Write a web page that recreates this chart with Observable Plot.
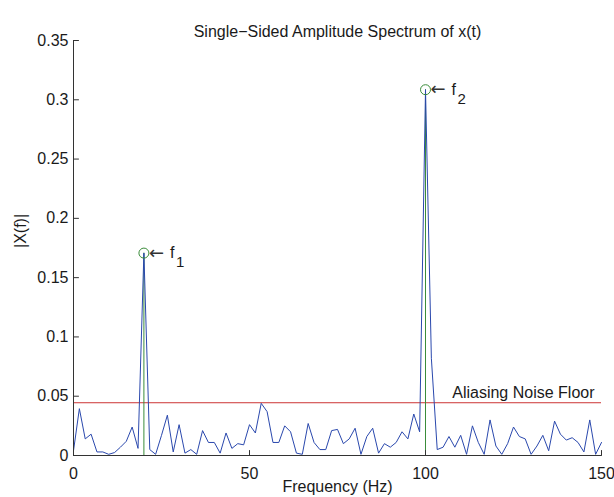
<!DOCTYPE html>
<html>
<head>
<meta charset="utf-8">
<script src="https://cdn.jsdelivr.net/npm/d3@7"></script>
<script src="https://cdn.jsdelivr.net/npm/@observablehq/plot@0.6"></script>
<style>
  html, body { margin: 0; padding: 0; background: #fff; }
  #chart { width: 614px; height: 497px; }
</style>
</head>
<body>
<div id="chart"></div>
<script>
// Frequency resolution of the FFT bins (Hz)
const binWidth = 5 / 3;
// Single-sided amplitude |X(f)| per bin (bins 0..90 → 0..150 Hz)
const amplitudes = [
  0.004, 0.0395, 0.014, 0.018, 0.003, 0.003, 0.001, 0.0025, 0.007, 0.012,
  0.024, 0.006, 0.1707, 0.005, 0.001, 0.017, 0.034, 0.003, 0.026, 0.002,
  0.005, 0.001, 0.021, 0.011, 0.011, 0.002, 0.019, 0.006, 0.010, 0.009,
  0.026, 0.019, 0.044, 0.037, 0.011, 0.011, 0.025, 0.020, 0.002, 0.001,
  0.027, 0.011, 0.005, 0.005, 0.021, 0.022, 0.010, 0.014, 0.023, 0.001,
  0.016, 0.023, 0.002, 0.010, 0.007, 0.011, 0.020, 0.014, 0.035, 0.020,
  0.3085, 0.082, 0.005, 0.007, 0.016, 0.007, 0.017, 0.001, 0.025, 0.011,
  0.001, 0.030, 0.008, 0.001, 0.010, 0.024, 0.016, 0.014, 0.001, 0.008,
  0.017, 0.004, 0.029, 0.018, 0.013, 0.015, 0.011, 0.003, 0.030, 0.001,
  0.011
];
// Marked peaks
const peakFreqs = [20, 100];
const peakAmps = [0.1707, 0.3085];
const peakSubs = ["1", "2"];
// Aliasing noise floor level
const noiseFloor = 0.0445;
const noiseLabel = "Aliasing Noise Floor";
// Axis ticks
const xTicks = [0, 50, 100, 150];
const yTicks = [0, 0.05, 0.1, 0.15, 0.2, 0.25, 0.3, 0.35];
const yTickLabels = ["0", "0.05", "0.1", "0.15", "0.2", "0.25", "0.3", "0.35"];
const titleText = "Single\u2212Sided Amplitude Spectrum of x(t)";
const xLabelText = "Frequency (Hz)";
const yLabelText = "|X(f)|";

const spectrum = amplitudes.map((a, i) => ({f: i * binWidth, a}));
const peaks = peakFreqs.map((f, i) => ({f, a: peakAmps[i], sub: peakSubs[i]}));

const ink = "#1a1a1a";
const axisInk = "#333";
const fs = 16;
// inward tick shape for Plot.vector
const tickShape = {draw(context, l) { context.moveTo(0, 0); context.lineTo(0, -l); }};

const chart = Plot.plot({
  width: 614,
  height: 497,
  marginLeft: 73,
  marginRight: 13,
  marginTop: 40,
  marginBottom: 42,
  style: {fontFamily: "'Liberation Sans', Arial, Helvetica, sans-serif", fontSize: fs + "px", color: ink, background: "#fff", overflow: "visible"},
  x: {domain: [0, 150]},
  y: {domain: [0, 0.35]},
  marks: [
    Plot.ruleY([noiseFloor], {stroke: "#cc3535", strokeWidth: 1}),
    Plot.ruleX(peaks, {x: "f", y1: 0, y2: "a", stroke: "#3a8c3a", strokeWidth: 1}),
    Plot.line(spectrum, {x: "f", y: "a", stroke: "#2a48ad", strokeWidth: 1}),
    Plot.dot(peaks, {x: "f", y: "a", r: 5, stroke: "#3a8c3a", fill: "none", strokeWidth: 1}),
    Plot.text(peaks, {x: "f", y: "a", text: () => "\u2190", dx: 5, textAnchor: "start", fill: "#333", fontSize: 18, fontFamily: "'DejaVu Sans', sans-serif"}),
    Plot.text(peaks, {x: "f", y: "a", text: () => "f", dx: 26, textAnchor: "start", fill: ink, fontSize: fs}),
    Plot.text(peaks, {x: "f", y: "a", text: "sub", dx: 32, dy: 9, textAnchor: "start", fill: ink, fontSize: 15}),
    Plot.text([noiseLabel], {x: 150, y: noiseFloor, text: d => d, dx: -7, dy: -10, textAnchor: "end", fill: ink, fontSize: fs}),
    Plot.ruleX([0], {stroke: axisInk, strokeWidth: 1}),
    Plot.ruleY([0], {stroke: axisInk, strokeWidth: 1}),
    Plot.vector(xTicks, {x: d => d, y: 0, length: 5, rotate: 0, anchor: "start", shape: tickShape, stroke: axisInk, strokeWidth: 1}),
    Plot.vector(yTicks, {x: 0, y: d => d, length: 5, rotate: 90, anchor: "start", shape: tickShape, stroke: axisInk, strokeWidth: 1}),
    Plot.axisX({ticks: xTicks, tickSize: 0, tickPadding: 12, tickFormat: d => String(d), label: null, fontSize: fs}),
    Plot.axisY({ticks: yTicks, tickSize: 0, tickPadding: 5, tickFormat: d => yTickLabels[yTicks.indexOf(d)], label: null, fontSize: fs}),
    Plot.text([titleText], {frameAnchor: "top", text: d => d, dy: -15, fill: ink, fontSize: fs}),
    Plot.text([xLabelText], {frameAnchor: "bottom", text: d => d, dy: 36, fill: ink, fontSize: fs}),
    Plot.text([yLabelText], {frameAnchor: "left", text: d => d, rotate: -90, dx: -53, fill: ink, fontSize: fs})
  ]
});
document.getElementById("chart").appendChild(chart);
</script>
</body>
</html>
